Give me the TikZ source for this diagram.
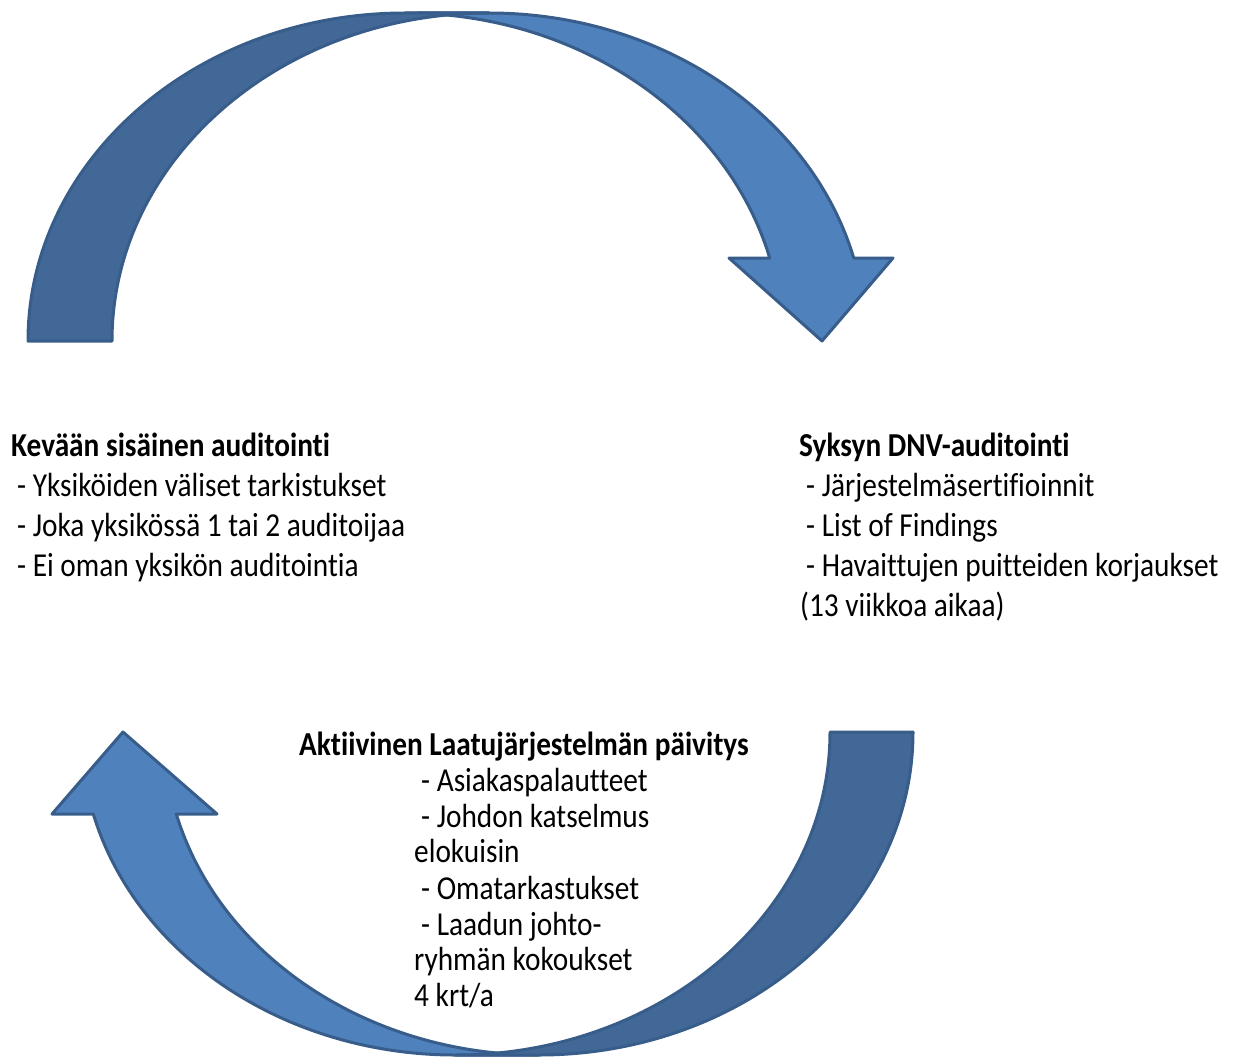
\documentclass[tikz,border=0pt]{standalone}
\usepackage{fontspec}
\setmainfont{Carlito}[FakeStretch=0.875, Ligatures=NoCommon]
\definecolor{arrowlight}{RGB}{79,129,189}
\definecolor{arrowdark}{RGB}{65,104,151}
\definecolor{arrowline}{RGB}{56,93,138}
\tikzset{
  lightpart/.style={fill=arrowlight, draw=arrowline, line width=3pt, line join=round},
  darkpart/.style={fill=arrowdark, draw=arrowline, line width=3pt, line join=round},
  txt/.style={anchor=base west, inner sep=0pt, font=\fontsize{33.5}{40}\selectfont},
  hd/.style={anchor=base west, inner sep=0pt, font=\fontsize{33.5}{40}\selectfont\bfseries}
}
\begin{document}
\begin{tikzpicture}[x=1pt,y=1pt]
\useasboundingbox (0,0) rectangle (1241,-1057);
% top arrow
\draw[lightpart] (822,-341) -- (729,-258) -- (769.7,-258)
  arc[start angle=14.66, end angle=90, x radius=377, y radius=328] -- (489,-13)
  arc[start angle=90, end angle=14.66, x radius=377, y radius=328] -- (893,-258) -- cycle;
\draw[darkpart] (28,-341)
  arc[start angle=180, end angle=90, x radius=377, y radius=328] -- (489,-13)
  arc[start angle=90, end angle=180, x radius=377, y radius=328] -- cycle;
% bottom arrow
\draw[lightpart] (123,-732) -- (217,-814) -- (176.3,-814)
  arc[start angle=194.71, end angle=270, x radius=374.5, y radius=323] -- (455.5,-1055)
  arc[start angle=270, end angle=194.71, x radius=374.5, y radius=323] -- (52,-814) -- cycle;
\draw[darkpart] (913,-732)
  arc[start angle=0, end angle=-90, x radius=374.5, y radius=323] -- (455.5,-1055)
  arc[start angle=-90, end angle=0, x radius=374.5, y radius=323] -- cycle;
% left text
\node[hd] (kh) at (11,-456) {Kevään sisäinen auditointi};
\node[txt] (k1) at (17,-496) {- Yksiköiden väliset tarkistukset};
\node[txt] (k2) at (17,-536) {- Joka yksikössä 1 tai 2 auditoijaa};
\node[txt] (k3) at (17,-576) {- Ei oman yksikön auditointia};
% right text
\node[hd] (sh) at (799,-456) {Syksyn DNV-auditointi};
\node[txt] (s1) at (806,-496) {- Järjestelmäsertifioinnit};
\node[txt] (s2) at (806,-536) {- List of Findings};
\node[txt] (s3) at (806,-576) {- Havaittujen puitteiden korjaukset};
\node[txt] (s4) at (800,-616) {(13 viikkoa aikaa)};
% bottom text
\node[hd] (ah) at (299,-755) {Aktiivinen Laatujärjestelmän päivitys};
\node[txt] (a1) at (421,-791) {- Asiakaspalautteet};
\node[txt] (a2) at (421,-827) {- Johdon katselmus};
\node[txt] (a3) at (414,-862) {elokuisin};
\node[txt] (a4) at (421,-899) {- Omatarkastukset};
\node[txt] (a5) at (421,-935) {- Laadun johto-};
\node[txt] (a6) at (414,-970) {ryhmän kokoukset};
\node[txt] (a7) at (414,-1006) {4 krt/a};
\end{tikzpicture}
\end{document}
